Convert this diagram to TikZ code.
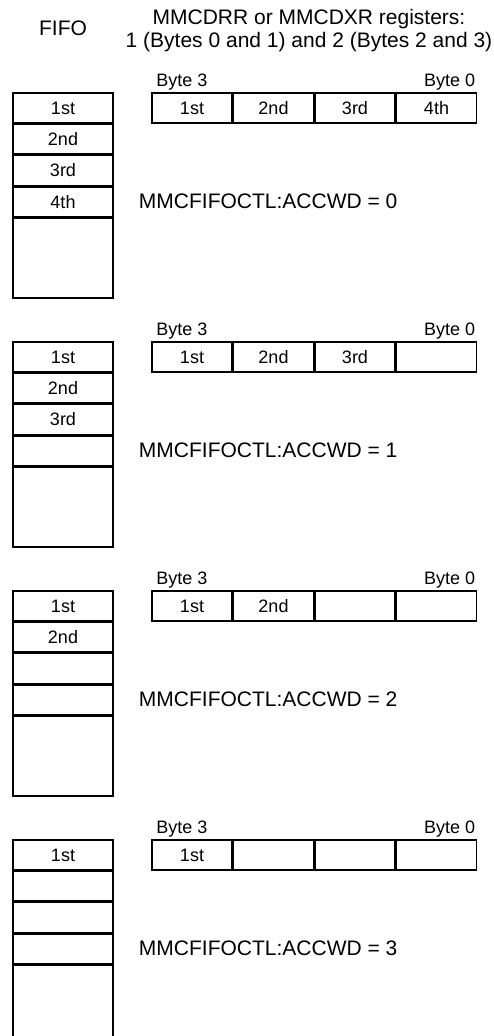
\documentclass[tikz,border=0pt]{standalone}
\usepackage{fontspec}
\setmainfont{Liberation Sans}
\usetikzlibrary{positioning}
\tikzset{
  fifocell/.style={rectangle, draw=black, line width=1.5pt, minimum width=100pt, minimum height=29.7pt, inner sep=0pt, font=\fontsize{18}{20}\selectfont},
  fifotail/.style={fifocell, minimum height=80pt},
  regcell/.style={fifocell, minimum width=80pt, minimum height=30pt},
  bytelabel/.style={inner sep=2pt, font=\fontsize{18}{20}\selectfont},
  modelabel/.style={inner sep=0pt, font=\fontsize{21}{23}\selectfont},
}

\begin{document}
\begin{tikzpicture}[x=1pt,y=-1pt]
  \useasboundingbox (0,0) rectangle (494,1036);
  \node[modelabel] (fifolabel) at (63,28) {FIFO};
  \node[modelabel,align=center] (title) at (309,31) {MMCDRR or MMCDXR registers:\\1 (Bytes 0 and 1) and 2 (Bytes 2 and 3)};
  \foreach \k in {0,...,3}{
    \pgfmathtruncatemacro{\used}{4-\k}
    % FIFO column and register row
    \node[fifocell] (fifo\k-1) at (63,108+249*\k) {1st};
    \node[regcell] (reg\k-1) at (192,108+249*\k) {1st};
    \foreach \i/\ord/\prev in {2/2nd/1,3/3rd/2,4/4th/3}{
      \node[fifocell,below=0pt of fifo\k-\prev] (fifo\k-\i) {\ifnum\i>\used\else\ord\fi};
      \node[regcell,right=0pt of reg\k-\prev] (reg\k-\i) {\ifnum\i>\used\else\ord\fi};
    }
    \node[fifotail,below=0pt of fifo\k-4] (tail\k) {};
    % byte order and mode
    \node[bytelabel,anchor=south west,xshift=3pt] (bytehi\k) at (reg\k-1.north west) {Byte 3};
    \node[bytelabel,anchor=south east] (bytelo\k) at (reg\k-4.north east) {Byte 0};
    \node[modelabel,right=25pt of fifo\k-4] (accwd\k) {MMCFIFOCTL:ACCWD = \k};
  }
\end{tikzpicture}
\end{document}
